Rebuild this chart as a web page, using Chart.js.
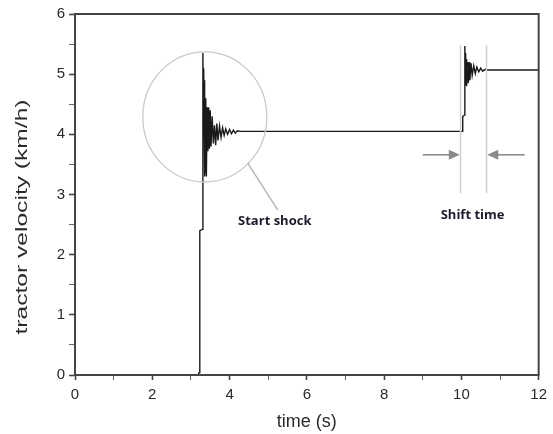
<!DOCTYPE html>
<html>
<head>
<meta charset="utf-8">
<script src="https://cdn.jsdelivr.net/npm/chart.js@4"></script>
<style>
  html, body { margin: 0; padding: 0; background: #fff; }
  canvas { display: block; }
</style>
</head>
<body>
<canvas id="velocityChart" width="553" height="434"></canvas>
<script>
// time (s) and tractor velocity (km/h)
const time = [
  0, 3.18, 3.21, 3.23, 3.23, 3.30, 3.31,
  3.32, 3.33, 3.34, 3.35, 3.36, 3.37, 3.38, 3.39, 3.40,
  3.42, 3.44, 3.46, 3.48, 3.50, 3.52, 3.55, 3.58, 3.61, 3.64,
  3.67, 3.70, 3.74, 3.78, 3.82, 3.86, 3.90, 3.95, 4.00, 4.05,
  4.10, 4.15, 4.20, 4.27,
  10.02, 10.03, 10.04, 10.08, 10.09, 10.10, 10.11, 10.12, 10.13, 10.14,
  10.16, 10.18, 10.20, 10.22, 10.25, 10.28, 10.32, 10.36, 10.40, 10.45,
  10.50, 10.55, 10.62, 10.68, 12
];
const velocity = [
  0, 0, 0.04, 0.08, 2.40, 2.42, 5.35,
  4.60, 5.10, 4.50, 4.90, 3.30, 4.60, 3.35, 4.55, 3.30,
  4.45, 3.72, 4.45, 3.76, 4.40, 3.80, 4.30, 3.85, 4.15, 3.82,
  4.18, 3.90, 4.14, 3.95, 4.11, 3.98, 4.09, 4.00, 4.08, 4.01,
  4.07, 4.02, 4.06, 4.05,
  4.05, 4.05, 4.30, 4.32, 5.47, 4.90, 5.35, 4.85, 5.25, 4.80,
  5.20, 4.85, 5.20, 4.90, 5.18, 4.98, 5.14, 5.01, 5.12, 5.04,
  5.10, 5.05, 5.08, 5.07, 5.07
];

const xTicks = [0, 2, 4, 6, 8, 10, 12];
const xMinorTicks = [1, 3, 5, 7, 9, 11];
const yTicks = [0, 1, 2, 3, 4, 5, 6];
const yMinorTicks = [0.5, 1.5, 2.5, 3.5, 4.5, 5.5];

const xTitle = 'time (s)';
const yTitle = 'tractor velocity (km/h)';

function buildTicks(major, minor) {
  return major.concat(minor).sort((a, b) => a - b)
    .map(v => ({ value: v, major: major.includes(v) }));
}

// frame, axis titles and the two callouts
const decorations = {
  id: 'decorations',
  afterDatasetsDraw(chart) {
    const { ctx, chartArea: a, scales: { x, y } } = chart;
    ctx.save();

    // box round the plot
    ctx.strokeStyle = '#444';
    ctx.lineWidth = 2;
    ctx.strokeRect(a.left, a.top, a.right - a.left, a.bottom - a.top);

    // start shock circle and pointer
    ctx.strokeStyle = '#c9c9c9';
    ctx.lineWidth = 1.3;
    ctx.beginPath();
    ctx.ellipse(x.getPixelForValue(3.36), y.getPixelForValue(4.29), 62, 65, 0, 0, Math.PI * 2);
    ctx.stroke();
    ctx.strokeStyle = '#b0b0b0';
    ctx.beginPath();
    ctx.moveTo(x.getPixelForValue(4.47), y.getPixelForValue(3.52));
    ctx.lineTo(x.getPixelForValue(5.25), y.getPixelForValue(2.74));
    ctx.stroke();

    // shift time guides
    ctx.strokeStyle = '#cfcfcf';
    ctx.lineWidth = 1.5;
    [9.98, 10.65].forEach(t => {
      ctx.beginPath();
      ctx.moveTo(x.getPixelForValue(t), y.getPixelForValue(5.48));
      ctx.lineTo(x.getPixelForValue(t), y.getPixelForValue(3.02));
      ctx.stroke();
    });
    drawArrow(ctx, x.getPixelForValue(9.0), x.getPixelForValue(9.96), y.getPixelForValue(3.66));
    drawArrow(ctx, x.getPixelForValue(11.64), x.getPixelForValue(10.67), y.getPixelForValue(3.66));

    // callout labels
    ctx.fillStyle = '#1c1c30';
    ctx.font = 'bold 13px "Open Sans"';
    ctx.textAlign = 'center';
    ctx.textBaseline = 'middle';
    ctx.fillText('Start shock', x.getPixelForValue(5.17), y.getPixelForValue(2.56));
    ctx.fillText('Shift time', x.getPixelForValue(10.29), y.getPixelForValue(2.66));

    // axis titles
    ctx.fillStyle = '#2a2a2a';
    ctx.font = '18px "Liberation Sans"';
    ctx.fillText(xTitle, (a.left + a.right) / 2, 422);

    ctx.font = '17px "Liberation Sans"';
    const w = ctx.measureText(yTitle).width;
    ctx.translate(22, 217);
    ctx.rotate(-Math.PI / 2);
    ctx.scale(235 / w, 1);
    ctx.fillText(yTitle, 0, 0);
    ctx.restore();
  }
};

function drawArrow(ctx, fromX, toX, yy) {
  const dir = Math.sign(toX - fromX);
  ctx.strokeStyle = '#8a8a8a';
  ctx.fillStyle = '#8a8a8a';
  ctx.lineWidth = 1.6;
  ctx.beginPath();
  ctx.moveTo(fromX, yy);
  ctx.lineTo(toX - dir * 8, yy);
  ctx.stroke();
  ctx.beginPath();
  ctx.moveTo(toX, yy);
  ctx.lineTo(toX - dir * 11, yy - 5);
  ctx.lineTo(toX - dir * 11, yy + 5);
  ctx.closePath();
  ctx.fill();
}

const ctx = document.getElementById('velocityChart').getContext('2d');
const velocityChart = new Chart(ctx, {
  type: 'line',
  data: {
    datasets: [{
      data: time.map((t, i) => ({ x: t, y: velocity[i] })),
      borderColor: '#1a1a1a',
      borderWidth: 1.4,
      pointRadius: 0,
      tension: 0
    }]
  },
  options: {
    responsive: false,
    animation: false,
    devicePixelRatio: 1,
    layout: { padding: { left: 0, right: 14, top: 14, bottom: 0 } },
    plugins: { legend: { display: false }, tooltip: { enabled: false } },
    scales: {
      x: {
        type: 'linear',
        min: 0,
        max: 12,
        afterBuildTicks: s => { s.ticks = buildTicks(xTicks, xMinorTicks); },
        afterFit: s => { s.height = 59; },
        border: { display: true, color: '#444', width: 2 },
        grid: {
          drawOnChartArea: false,
          drawTicks: true,
          tickLength: 5,
          tickColor: c => c.tick && c.tick.major ? '#444' : '#666',
          tickWidth: c => c.tick && c.tick.major ? 1.6 : 1
        },
        ticks: {
          autoSkip: false,
          maxRotation: 0,
          padding: 6,
          color: '#2a2a2a',
          font: { family: 'Liberation Sans', size: 15 },
          callback: v => xTicks.includes(v) ? String(v) : ''
        }
      },
      y: {
        type: 'linear',
        min: 0,
        max: 6,
        afterBuildTicks: s => { s.ticks = buildTicks(yTicks, yMinorTicks); },
        afterFit: s => { s.width = 75; },
        border: { display: true, color: '#444', width: 2 },
        grid: {
          drawOnChartArea: false,
          drawTicks: true,
          tickLength: 6,
          tickColor: c => c.tick && c.tick.major ? '#444' : '#666',
          tickWidth: c => c.tick && c.tick.major ? 1.6 : 1
        },
        ticks: {
          autoSkip: false,
          padding: 4,
          color: '#2a2a2a',
          font: { family: 'Liberation Sans', size: 15 },
          callback: v => yTicks.includes(v) ? String(v) : ''
        }
      }
    }
  },
  plugins: [decorations]
});
</script>
</body>
</html>
